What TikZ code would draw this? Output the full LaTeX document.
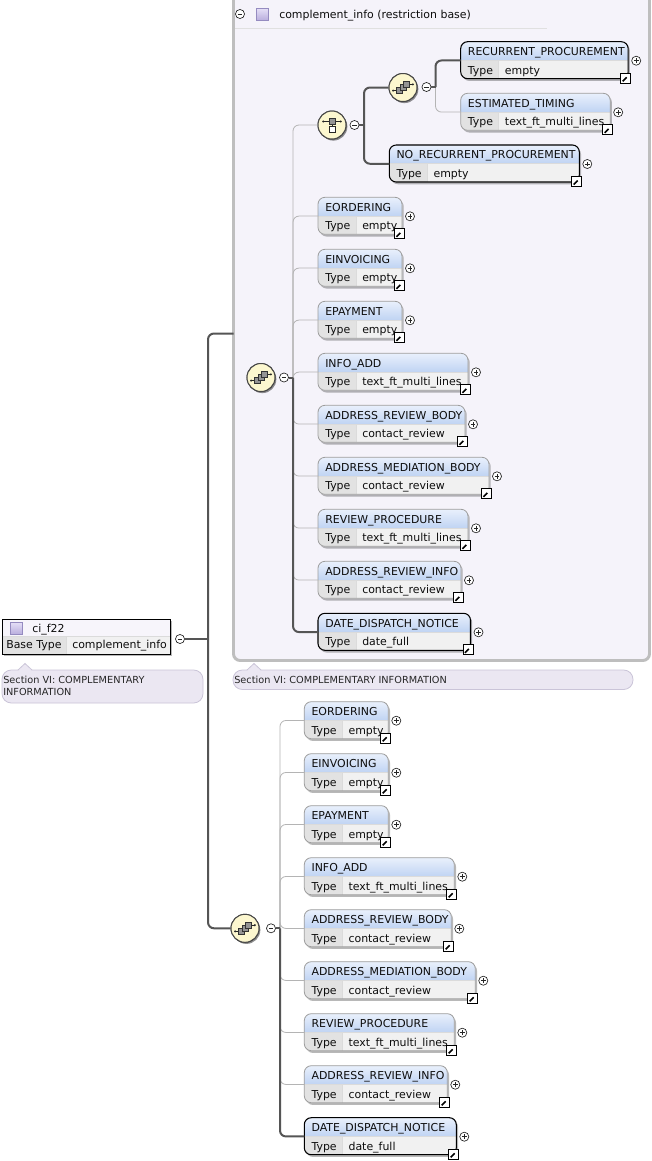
\documentclass[tikz,border=0pt]{standalone}
\usepackage{fontspec}
\setmainfont{DejaVu Sans}
\usetikzlibrary{shadows}

\definecolor{panelbg}{HTML}{F5F3FA}
\definecolor{panelrule}{HTML}{BEBEBE}
\definecolor{hdtop}{HTML}{E9F0FC}
\definecolor{hdbot}{HTML}{C0D4F3}
\definecolor{typecell}{HTML}{E2E2E2}
\definecolor{valcell}{HTML}{F1F1F1}
\definecolor{optline}{HTML}{B4B4B4}
\definecolor{reqline}{HTML}{555555}
\definecolor{iconfill}{HTML}{FCF7CF}
\definecolor{notefill}{HTML}{EBE7F2}
\definecolor{noterule}{HTML}{CAC4D8}
\definecolor{lavtop}{HTML}{E4DEF6}
\definecolor{lavbot}{HTML}{B8ADDD}
\definecolor{lavrule}{HTML}{958BC0}
\definecolor{cihead}{HTML}{F7F5FB}

\tikzset{
  conn/.style={draw=reqline, line width=1.5pt, rounded corners=4.5pt},
  optconn/.style={draw=optline, line width=0.6pt, rounded corners=4.5pt},
  elemreq/.style={draw=black, line width=0.8pt, rounded corners=5.2pt},
  elemopt/.style={draw=black!38, line width=0.6pt, rounded corners=5.2pt},
  cellrule/.style={draw=black!14, line width=0.4pt},
  elembody/.style={rectangle, fill=valcell, rounded corners=5.2pt, inner sep=0pt,
    minimum height=27.75pt,
    drop shadow={shadow xshift=1.1pt, shadow yshift=-1.5pt, opacity=0.28, fill=black}},
  lbl/.style={font=\fontsize{8.2}{10}\selectfont, inner sep=0pt, text=black!95},
  notetxt/.style={font=\fontsize{7.3}{9}\selectfont, inner sep=0pt, text=black!85},
  btn/.style={circle, draw=black!85, fill=white, line width=0.5pt, minimum size=6.8pt, inner sep=0pt},
  plusbtn/.style={btn, path picture={
    \draw[line width=0.55pt] ([xshift=-1.8pt]path picture bounding box.center) -- ([xshift=1.8pt]path picture bounding box.center);
    \draw[line width=0.55pt] ([yshift=-1.8pt]path picture bounding box.center) -- ([yshift=1.8pt]path picture bounding box.center);}},
  minusbtn/.style={btn, path picture={
    \draw[line width=0.55pt] ([xshift=-1.8pt]path picture bounding box.center) -- ([xshift=1.8pt]path picture bounding box.center);}},
  linkicon/.style={rectangle, draw=black, fill=white, line width=0.6pt, minimum size=7.4pt, inner sep=0pt,
    path picture={
    \draw[line width=1.2pt] ([xshift=-2.3pt,yshift=-2.3pt]path picture bounding box.center) -- ([xshift=1pt,yshift=1pt]path picture bounding box.center);
    \fill ([xshift=2.6pt,yshift=2.6pt]path picture bounding box.center) -- ([xshift=-1.1pt,yshift=2.6pt]path picture bounding box.center) -- ([xshift=2.6pt,yshift=-1.1pt]path picture bounding box.center) -- cycle;}},
  groupicon/.style={circle, draw=black!72, fill=iconfill, line width=0.75pt, minimum size=21pt, inner sep=0pt,
    drop shadow={shadow xshift=1pt, shadow yshift=-1.2pt, opacity=0.25, fill=black}},
  lavsquare/.style={rectangle, draw=lavrule, line width=0.5pt, top color=lavtop, bottom color=lavbot,
    minimum size=9pt, inner sep=0pt},
  notebox/.style={draw=noterule, fill=notefill, line width=0.6pt},
}

% one schema element: name, left, top, width, title, type, req|opt
\newcommand\xsdelem[7]{%
  \node[elembody, minimum width={(#4)*0.75pt}, anchor=north west] (#1) at (#2,#3) {};
  \begin{scope}
    \clip[rounded corners=5.2pt] (#2,#3) rectangle ++(#4,37);
    \shade[top color=hdtop, bottom color=hdbot] (#2,#3) rectangle ++(#4,18.5);
    \fill[typecell] (#2,#3+18.5) rectangle ++(38,18.5);
  \end{scope}
  \draw[cellrule] (#2,#3+18.5) -- ++(#4,0);
  \draw[cellrule] (#2+38,#3+18.5) -- ++(0,18.5);
  \draw[elem#7] (#2,#3) rectangle ++(#4,37);
  \node[lbl, anchor=base west] (#1-t) at (#2+7,#3+13.7) {#5};
  \node[lbl, anchor=base west] (#1-k) at (#2+7,#3+32.5) {Type};
  \node[lbl, anchor=base west] (#1-v) at (#2+44,#3+32.5) {#6};
  \node[plusbtn] (#1-p) at (#2+#4+8,#3+19) {};
  \node[linkicon] (#1-l) at (#2+#4-2.5,#3+36.5) {};
}

% sequence compositor glyph
\newcommand\seqglyph[1]{%
  \begin{scope}[shift={(#1.center)}, x=1pt, y=1pt, line width=0.45pt]
    \draw[black!85] (-7.4,-2.3) -- (-3,-2.3);
    \fill[black!85] (-7.4,-2.3) circle (0.85);
    \draw[black!85] (3,2.3) -- (7.4,2.3);
    \fill[black!85] (7.4,2.3) circle (0.85);
    \filldraw[fill=black!42, draw=black!80] (-4.8,-4.6) rectangle ++(4.6,4.6);
    \filldraw[fill=black!42, draw=black!80] (-2.3,-2.3) rectangle ++(4.6,4.6);
    \filldraw[fill=black!42, draw=black!80] (0.2,0) rectangle ++(4.6,4.6);
  \end{scope}}

% choice compositor glyph
\newcommand\choiceglyph[1]{%
  \begin{scope}[shift={(#1.center)}, x=1pt, y=1pt, line width=0.45pt]
    \draw[black!85] (-6.6,2.6) -- (6.6,2.6);
    \fill[black!85] (-6.6,2.6) circle (0.85);
    \fill[black!85] (6.6,2.6) circle (0.85);
    \draw[black!85] (0,2.6) -- (0,-1.2);
    \filldraw[fill=black!42, draw=black!80] (-2.3,0.3) rectangle ++(4.6,4.6);
    \filldraw[fill=white, draw=black!85] (-2.3,-5.8) rectangle ++(4.6,4.6);
  \end{scope}}

\begin{document}
\begin{tikzpicture}[x=0.75pt, y=-0.75pt]
\useasboundingbox (0,0) rectangle (652,1161);
\fill[white] (0,0) rectangle (652,1161);

% ---------- restriction base panel ----------
\draw[panelrule, line width=2.2pt, fill=panelbg, rounded corners=5pt] (233.5,-20) rectangle (649.5,660.5);
\draw[black!12, line width=1.3pt] (235,28.5) -- (547,28.5);
\node[minusbtn] (pm) at (240,14) {};
\node[lavsquare] (pi) at (262.5,14.5) {};
\node[lbl, anchor=base west] (pt) at (279,18.5) {complement\_info (restriction base)};
\coordinate (panelin) at (233.5,333.5);

% ---------- ci_f22 ----------
\node[rectangle, fill=valcell, inner sep=0pt, minimum width=126.4pt, minimum height=26.25pt,
  anchor=north west, drop shadow={shadow xshift=1.1pt, shadow yshift=-1.5pt, opacity=0.28, fill=black}] (ci) at (2,619) {};
\fill[cihead] (2,619) rectangle (170.5,636);
\fill[typecell] (2,636) rectangle (66.7,654);
\draw[cellrule] (2,636) -- (170.5,636);
\draw[cellrule] (66.7,636) -- (66.7,654);
\draw[black, line width=0.75pt] (2,619) rectangle (170.5,654);
\node[lavsquare] (ci-i) at (16,628.5) {};
\node[lbl, anchor=base west] (ci-t) at (32,632.5) {ci\_f22};
\node[lbl, anchor=base west] (ci-k) at (6,648.5) {Base Type};
\node[lbl, anchor=base west] (ci-v) at (72,648.5) {complement\_info};
\node[minusbtn] (cim) at (180,639) {};
\coordinate (mainbr) at (208,639);

% ---------- annotations ----------
\draw[notebox, rounded corners=7pt] (2,670) rectangle (203,703);
\fill[notefill] (18,670.8) -- (25,663.5) -- (32,670.8) -- cycle;
\draw[noterule, line width=0.6pt] (18,670) -- (25,663.5) -- (32,670);
\node[notetxt, anchor=base west] (n1a) at (3,683.5) {Section VI: COMPLEMENTARY};
\node[notetxt, anchor=base west] (n1b) at (3,695.5) {INFORMATION};

\draw[notebox, rounded corners=7pt] (233,670) rectangle (633,689.5);
\fill[notefill] (247,670.8) -- (254,663.5) -- (261,670.8) -- cycle;
\draw[noterule, line width=0.6pt] (247,670) -- (254,663.5) -- (261,670);
\node[notetxt, anchor=base west] (n2) at (234,683) {Section VI: COMPLEMENTARY INFORMATION};

% ---------- compositors ----------
\node[groupicon] (sqa) at (261,377.5) {};
\node[minusbtn] (sqam) at (284,377.5) {};
\coordinate (bra) at (293,377.5);

\node[groupicon] (cha) at (332,125) {};
\node[minusbtn] (cham) at (354.5,125) {};
\coordinate (brc) at (364,125);

\node[groupicon] (sqc) at (403,87.5) {};
\node[minusbtn] (sqcm) at (426.5,87) {};
\coordinate (brd) at (435.5,87);

\node[groupicon] (sqb) at (245,928.3) {};
\node[minusbtn] (sqbm) at (271,928.3) {};
\coordinate (brb) at (280,928.3);

% ---------- elements inside the panel ----------
\xsdelem{rp}{460.7}{41.7}{167.5}{RECURRENT\_PROCUREMENT}{empty}{req}
\xsdelem{et}{460.7}{93.3}{149.5}{ESTIMATED\_TIMING}{text\_ft\_multi\_lines}{opt}
\xsdelem{nrp}{389.3}{145}{190}{NO\_RECURRENT\_PROCUREMENT}{empty}{req}
\xsdelem{eoa}{318}{197.3}{84}{EORDERING}{empty}{opt}
\xsdelem{eia}{318}{249.3}{84}{EINVOICING}{empty}{opt}
\xsdelem{epa}{318}{301.3}{84}{EPAYMENT}{empty}{opt}
\xsdelem{iaa}{318}{353.3}{150}{INFO\_ADD}{text\_ft\_multi\_lines}{opt}
\xsdelem{arba}{318}{405.3}{147}{ADDRESS\_REVIEW\_BODY}{contact\_review}{opt}
\xsdelem{amba}{318}{457.3}{171}{ADDRESS\_MEDIATION\_BODY}{contact\_review}{opt}
\xsdelem{rvpa}{318}{509.3}{150}{REVIEW\_PROCEDURE}{text\_ft\_multi\_lines}{opt}
\xsdelem{aria}{318}{561.3}{143}{ADDRESS\_REVIEW\_INFO}{contact\_review}{opt}
\xsdelem{ddna}{318}{613.3}{152.5}{DATE\_DISPATCH\_NOTICE}{date\_full}{req}

% ---------- elements of the extension sequence ----------
\xsdelem{eob}{304.3}{701.7}{84}{EORDERING}{empty}{opt}
\xsdelem{eib}{304.3}{753.7}{84}{EINVOICING}{empty}{opt}
\xsdelem{epb}{304.3}{805.7}{84}{EPAYMENT}{empty}{opt}
\xsdelem{iab}{304.3}{857.7}{150}{INFO\_ADD}{text\_ft\_multi\_lines}{opt}
\xsdelem{arbb}{304.3}{909.7}{147}{ADDRESS\_REVIEW\_BODY}{contact\_review}{opt}
\xsdelem{ambb}{304.3}{961.7}{171}{ADDRESS\_MEDIATION\_BODY}{contact\_review}{opt}
\xsdelem{rvpb}{304.3}{1013.7}{150}{REVIEW\_PROCEDURE}{text\_ft\_multi\_lines}{opt}
\xsdelem{arib}{304.3}{1065.7}{143}{ADDRESS\_REVIEW\_INFO}{contact\_review}{opt}
\xsdelem{ddnb}{304.3}{1117.7}{152}{DATE\_DISPATCH\_NOTICE}{date\_full}{req}

% ---------- optional connectors ----------
\foreach \c in {cha,eoa,eia,epa,iaa,arba,amba,rvpa,aria}
  \draw[optconn] (bra) |- (\c.west);
\draw[optconn] (brd) |- (et.west);
\foreach \c in {eob,eib,epb,iab,arbb,ambb,rvpb,arib}
  \draw[optconn] (brb) |- (\c.west);

% ---------- required connectors ----------
\draw[conn] (cim.east) -- (mainbr);
\draw[conn] (mainbr) |- (panelin);
\draw[conn] (mainbr) |- (sqb.west);
\draw[conn] (sqam.east) -- (bra);
\draw[conn] (bra) |- (ddna.west);
\draw[conn] (cham.east) -- (brc);
\draw[conn] (brc) |- (sqc.west);
\draw[conn] (brc) |- (nrp.west);
\draw[conn] (sqcm.east) -- (brd);
\draw[conn] (brd) |- (rp.west);
\draw[conn] (sqbm.east) -- (brb);
\draw[conn] (brb) |- (ddnb.west);

% compositor icons on top of the lines
\node[groupicon] at (sqa) {};
\seqglyph{sqa}
\node[groupicon] at (cha) {};
\choiceglyph{cha}
\node[groupicon] at (sqc) {};
\seqglyph{sqc}
\node[groupicon] at (sqb) {};
\seqglyph{sqb}
\end{tikzpicture}
\end{document}
